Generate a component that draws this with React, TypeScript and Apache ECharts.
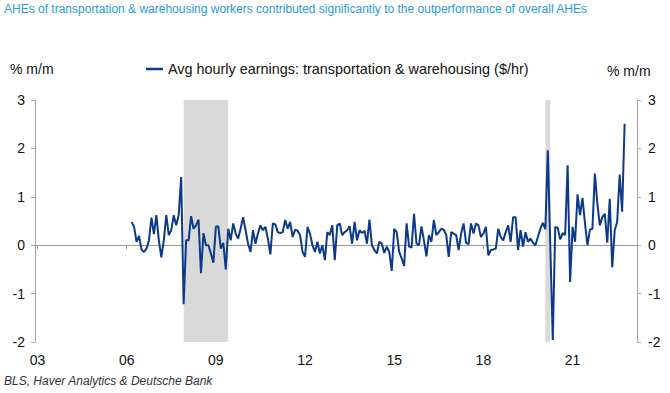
import React, { useEffect, useRef } from "react";
import * as echarts from "echarts";

// Monthly % m/m change, avg hourly earnings: transportation & warehousing
const ahe2006 = [0.48, 0.38, 0.07, 0.19, -0.09, -0.14, -0.07, 0.1, 0.57, 0.23]; // Mar-Dec
const ahe2007 = [0.62, 0.1, -0.25, 0.1, 0.62, 0.21, 0.31, 0.62, 0.41, 0.62, 1.41, -1.22];
const ahe2008 = [0.1, 0.1, 0.6, 0.34, 0.41, 0.53, -0.58, 0.25, 0, 0, -0.17, -0.36];
const ahe2009 = [0.38, 0.39, -0.07, 0.05, -0.5, 0.34, 0.1, 0.45, 0.24, 0.14, 0.34, 0.58];
const ahe2010 = [0.31, 0.03, -0.14, 0.31, 0.03, 0.24, 0.41, 0.31, 0.38, 0.14, -0.19, 0.45];
const ahe2011 = [0.43, 0.27, 0.25, 0.27, 0.52, 0.34, 0.48, 0.17, 0.32, 0.3, 0.21, -0.14];
const ahe2012 = [-0.24, 0.38, 0.24, 0, -0.14, 0.07, -0.17, 0, -0.31, 0.27, 0.21, 0.41];
const ahe2013 = [-0.31, 0.41, 0.45, 0.21, 0.27, 0.31, 0.39, 0.03, 0.48, 0.1, 0.31, 0.25];
const ahe2014 = [0.3, 0.03, 0.53, 0, -0.1, -0.17, 0.07, 0.03, -0.16, -0.03, -0.14, -0.53];
const ahe2015 = [0.34, 0.27, -0.14, -0.27, -0.43, 0.45, -0.03, -0.05, 0.65, 0.03, 0, 0.39];
const ahe2016 = [0.1, -0.23, 0.21, 0.07, 0.52, 0.21, 0.27, 0.34, 0.32, 0.21, -0.24, 0.27];
const ahe2017 = [0.24, 0.21, -0.1, 0.24, 0.45, 0.05, 0.02, 0.45, 0.24, 0.45, 0.41, 0.17];
const ahe2018 = [0.24, 0.38, -0.21, -0.1, -0.09, -0.07, 0.34, 0.17, 0.1, 0.27, 0.41, 0.07];
const ahe2019 = [0.58, 0.58, -0.1, 0.31, -0.03, 0.27, 0.07, 0.14, 0.05, 0.0, 0.17, 0.34];
const ahe2020 = [0.46, 0.33, 1.96, 0.0, -1.96, 0.38, 0.36, 0.12, 0.25, 0.21, 1.65, -0.76];
const ahe2021 = [0.38, 0.07, 1.05, 0.62, 0.98, 0.45, 0, 0.32, 0.34, 1.48, 0.86, 0.41];
const ahe2022 = [0.58, 0.65, 0.05, 0.96, -0.46, 0.31, 0.48, 1.46, 0.69, 2.51]; // Jan-Oct

const seriesStart = "2006-03";
const axisStart = { year: 2002, month: 12 };
const axisEnd = { year: 2023, month: 3 };
const recessions = [
  ["2007-12", "2009-06"],
  ["2020-02", "2020-04"],
];
const yTicks = { min: -2, max: 3, interval: 1 };

const FONT = "'Liberation Sans', Arial, sans-serif";

function pad(n: number) {
  return n < 10 ? "0" + n : "" + n;
}

function buildMonths() {
  const out: string[] = [];
  let y = axisStart.year;
  let m = axisStart.month;
  while (y < axisEnd.year || (y === axisEnd.year && m <= axisEnd.month)) {
    out.push(y + "-" + pad(m));
    m++;
    if (m > 12) {
      m = 1;
      y++;
    }
  }
  return out;
}

const isLabelMonth = (v: string) => {
  const y = parseInt(v.slice(0, 4), 10);
  return v.endsWith("-01") && (y - 2003) % 3 === 0;
};

export default function App() {
  const ref = useRef<HTMLDivElement>(null);
  useEffect(() => {
    if (!ref.current) return;
    const chart = echarts.init(ref.current, undefined, { renderer: "svg" });
    const months = buildMonths();
    const values = [
      ...ahe2006, ...ahe2007, ...ahe2008, ...ahe2009, ...ahe2010, ...ahe2011,
      ...ahe2012, ...ahe2013, ...ahe2014, ...ahe2015, ...ahe2016, ...ahe2017,
      ...ahe2018, ...ahe2019, ...ahe2020, ...ahe2021, ...ahe2022,
    ];
    const startIdx = months.indexOf(seriesStart);
    const data = months.map((_, i) => {
      const k = i - startIdx;
      return k >= 0 && k < values.length ? values[k] : null;
    });

    const yAxisCommon = {
      type: "value",
      min: yTicks.min,
      max: yTicks.max,
      interval: yTicks.interval,
      splitLine: { show: false },
      axisLine: { show: true, lineStyle: { color: "#a6a6a6", width: 1 } },
      axisTick: { show: true, length: 4, lineStyle: { color: "#a6a6a6" } },
    };

    chart.setOption({
      animation: false,
      backgroundColor: "#ffffff",
      textStyle: { fontFamily: FONT },
      grid: { left: 35, right: 33, top: 100, bottom: 51, containLabel: false },
      legend: {
        show: true,
        left: 141,
        top: 57,
        icon: "rect",
        itemWidth: 17,
        itemHeight: 2.5,
        textStyle: { fontSize: 14.4, color: "#111", fontFamily: FONT },
        data: ["Avg hourly earnings: transportation & warehousing ($/hr)"],
      },
      xAxis: [
        {
          type: "category",
          data: months,
          boundaryGap: false,
          position: "bottom",
          axisLine: { show: false, onZero: false },
          axisTick: { show: false },
          axisLabel: {
            interval: (i: number, v: string) => isLabelMonth(v),
            formatter: (v: string) => v.slice(2, 4),
            fontSize: 14,
            color: "#111",
            margin: 11,
            fontFamily: FONT,
          },
          splitLine: { show: false },
        },
        {
          type: "category",
          data: months,
          boundaryGap: false,
          position: "bottom",
          axisLine: { show: true, onZero: true, lineStyle: { color: "#999999", width: 1 } },
          axisTick: {
            show: true,
            length: 4,
            interval: (i: number, v: string) => isLabelMonth(v),
            lineStyle: { color: "#999999" },
          },
          axisLabel: { show: false },
          splitLine: { show: false },
        },
      ],
      yAxis: [
        {
          ...yAxisCommon,
          position: "left",
          axisLabel: { fontSize: 14, color: "#111", margin: 10, fontFamily: FONT },
        },
        {
          ...yAxisCommon,
          position: "right",
          axisLabel: { fontSize: 14, color: "#111", margin: 11, fontFamily: FONT },
        },
      ],
      series: [
        {
          name: "Avg hourly earnings: transportation & warehousing ($/hr)",
          type: "line",
          xAxisIndex: 0,
          yAxisIndex: 0,
          data,
          symbol: "none",
          connectNulls: false,
          lineStyle: { color: "#0c3a88", width: 2 },
          itemStyle: { color: "#0c3a88" },
          z: 3,
          markArea: {
            silent: true,
            itemStyle: { color: "#d9d9d9" },
            data: recessions.map(([a, b]) => [{ xAxis: a }, { xAxis: b }]),
          },
        },
      ],
      graphic: [
        {
          type: "text",
          left: 4,
          top: 3,
          style: {
            text: "AHEs of transportation & warehousing workers contributed significantly to the outperformance of overall AHEs",
            fontSize: 12,
            fill: "#2a9ad8",
            fontFamily: FONT,
          },
        },
        {
          type: "text",
          left: 10,
          top: 62,
          style: { text: "% m/m", fontSize: 14, fill: "#111", fontFamily: FONT },
        },
        {
          type: "text",
          left: 607,
          top: 64,
          style: { text: "% m/m", fontSize: 14, fill: "#111", fontFamily: FONT },
        },
        {
          type: "text",
          left: 4,
          top: 375,
          style: {
            text: "BLS, Haver Analytics & Deutsche Bank",
            fontSize: 12,
            fontStyle: "italic",
            fill: "#333",
            fontFamily: FONT,
          },
        },
      ],
    });
    return () => chart.dispose();
  }, []);
  return (
    <div
      ref={ref}
      style={{ position: "fixed", left: 0, top: 0, width: 670, height: 393, background: "#fff" }}
    />
  );
}
